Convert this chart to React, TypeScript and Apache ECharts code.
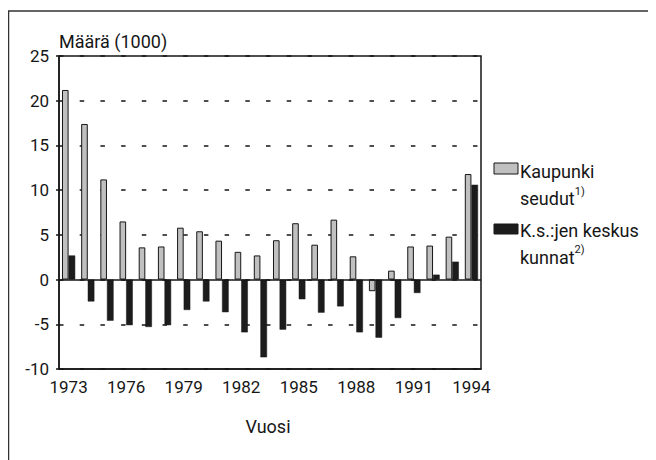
import React, { useEffect, useRef } from "react";
import * as echarts from "echarts";

const years = ["1973","1974","1975","1976","1977","1978","1979","1980","1981","1982","1983","1984","1985","1986","1987","1988","1989","1990","1991","1992","1993","1994"];
const kaupunkiseudut = [21.2, 17.4, 11.2, 6.5, 3.6, 3.7, 5.8, 5.4, 4.35, 3.1, 2.7, 4.4, 6.3, 3.9, 6.7, 2.6, -1.3, 1.0, 3.7, 3.8, 4.8, 11.8];
const keskuskunnat = [2.7, -2.45, -4.6, -5.1, -5.3, -5.1, -3.4, -2.45, -3.65, -5.9, -8.7, -5.6, -2.2, -3.7, -3.0, -5.9, -6.5, -4.3, -1.5, 0.55, 2.0, 10.6];
const yMin = -10;
const yMax = 25;
const yStep = 5;

const FONT = "Roboto, 'Liberation Sans', sans-serif";
const INK = "#161616";

export default function App() {
  const ref = useRef<HTMLDivElement>(null);
  useEffect(() => {
    if (!ref.current) return;
    const chart = echarts.init(ref.current, null, { renderer: "svg" });
    chart.setOption({
      animation: false,
      backgroundColor: "#ffffff",
      textStyle: { fontFamily: FONT },
      grid: {
        left: 51,
        top: 48,
        width: 422,
        height: 313,
        show: true,
        borderColor: INK,
        borderWidth: 1.5,
        containLabel: false,
      },
      xAxis: {
        type: "category",
        data: years,
        position: "bottom",
        axisLine: { onZero: false, lineStyle: { color: INK, width: 1.5 } },
        axisTick: { alignWithLabel: true, interval: 0, length: 5, lineStyle: { color: INK } },
        axisLabel: { interval: 2, color: INK, fontSize: 17, margin: 9, fontFamily: FONT },
        splitLine: { show: false },
      },
      yAxis: {
        type: "value",
        min: yMin,
        max: yMax,
        interval: yStep,
        axisLine: { show: true, lineStyle: { color: INK, width: 1.5 } },
        axisTick: { show: true, length: 3, lineStyle: { color: INK, width: 1.5 } },
        axisLabel: { color: INK, fontSize: 17, margin: 10, fontFamily: FONT },
        splitLine: { show: true, lineStyle: { color: INK, width: 1.6, type: [4.5, 16.2] } },
      },
      series: [
        {
          name: "Kaupunkiseudut",
          type: "bar",
          data: kaupunkiseudut,
          barWidth: 6.6,
          barGap: "0%",
          itemStyle: { color: "#c0c0c0", borderColor: INK, borderWidth: 1 },
          markLine: {
            silent: true,
            symbol: "none",
            label: { show: false },
            lineStyle: { color: INK, width: 1.5, type: "solid" },
            data: [{ yAxis: 0 }],
          },
        },
        {
          name: "K.s.:jen keskuskunnat",
          type: "bar",
          data: keskuskunnat,
          barWidth: 6.6,
          barGap: "0%",
          itemStyle: { color: "#1c1c1c", borderColor: INK, borderWidth: 0.5 },
        },
      ],
      graphic: [
        {
          type: "rect",
          shape: { x: 0.5, y: 3, width: 646.5, height: 500 },
          style: { fill: "none", stroke: "#333", lineWidth: 1.5 },
          silent: true,
          z: -1,
        },
        {
          type: "text",
          x: 51,
          y: 33,
          style: { text: "Määrä (1000)", fill: INK, font: `18px ${FONT}`, verticalAlign: "middle", align: "left" },
        },
        {
          type: "text",
          x: 260,
          y: 418,
          style: { text: "Vuosi", fill: INK, font: `18px ${FONT}`, verticalAlign: "middle", align: "center" },
        },
        {
          type: "rect",
          shape: { x: 486, y: 155, width: 24, height: 11 },
          style: { fill: "#c0c0c0", stroke: INK, lineWidth: 1 },
        },
        {
          type: "text",
          x: 512,
          y: 163.5,
          style: { text: "Kaupunki", fill: INK, font: `18px ${FONT}`, verticalAlign: "middle", align: "left" },
        },
        {
          type: "text",
          x: 512,
          y: 188.5,
          style: {
            text: "{a|seudut}{s|1)}",
            fill: INK,
            verticalAlign: "middle",
            align: "left",
            rich: {
              a: { fontSize: 18, fontFamily: FONT, fill: INK, lineHeight: 22, verticalAlign: "bottom" },
              s: { fontSize: 11, fontFamily: FONT, fill: INK, lineHeight: 22, verticalAlign: "top" },
            },
          },
        },
        {
          type: "rect",
          shape: { x: 486, y: 216, width: 24, height: 10 },
          style: { fill: "#1c1c1c", stroke: INK, lineWidth: 1 },
        },
        {
          type: "text",
          x: 512,
          y: 222,
          style: { text: "K.s.:jen keskus", fill: INK, font: `18px ${FONT}`, verticalAlign: "middle", align: "left" },
        },
        {
          type: "text",
          x: 512,
          y: 247,
          style: {
            text: "{a|kunnat}{s|2)}",
            fill: INK,
            verticalAlign: "middle",
            align: "left",
            rich: {
              a: { fontSize: 18, fontFamily: FONT, fill: INK, lineHeight: 22, verticalAlign: "bottom" },
              s: { fontSize: 11, fontFamily: FONT, fill: INK, lineHeight: 22, verticalAlign: "top" },
            },
          },
        },
      ],
    });
    return () => chart.dispose();
  }, []);
  return <div ref={ref} style={{ width: 648, height: 452 }} />;
}
